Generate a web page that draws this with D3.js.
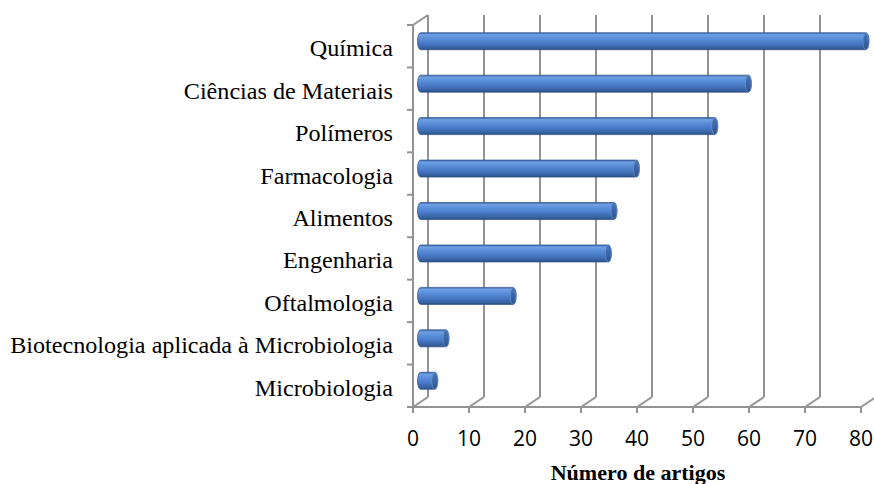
<!DOCTYPE html>
<html>
<head>
<meta charset="utf-8">
<script src="https://cdn.jsdelivr.net/npm/d3@7"></script>
<style>
  body { margin: 0; background: #fff; }
  svg { display: block; }
</style>
</head>
<body>
<div class="chart"></div>
<script>
var categories = ["Química", "Ciências de Materiais", "Polímeros", "Farmacologia",
  "Alimentos", "Engenharia", "Oftalmologia", "Biotecnologia aplicada à Microbiologia",
  "Microbiologia"];
var values = [80, 59, 53, 39, 35, 34, 17, 5, 3];
var ticks = [0, 10, 20, 30, 40, 50, 60, 70, 80];
var axisTitle = "Número de artigos";

var width = 874, height = 484;
// 3d depth offset of the back wall
var depth = {dx: 15, dy: -10};
var front = {left: 413, right: 861, top: 25, bottom: 407};

var svg = d3.select(".chart").append("svg")
    .attr("width", width)
    .attr("height", height);

var x = d3.scaleLinear().domain([0, 80]).range([front.left, front.right]);
var y = d3.scaleBand().domain(categories).range([front.top, front.bottom]);

var grid = "#939393";

// gradients for the cylinders
var defs = svg.append("defs");
var body = defs.append("linearGradient").attr("id", "cyl")
    .attr("x1", 0).attr("y1", 0).attr("x2", 0).attr("y2", 1);
[[0, "#3a68ab"], [0.12, "#6f9fe2"], [0.3, "#5d91dc"], [0.65, "#4677c2"], [0.9, "#35609f"], [1, "#2a4c80"]]
  .forEach((s) => { body.append("stop").attr("offset", s[0]).attr("stop-color", s[1]); });
var cap = defs.append("linearGradient").attr("id", "cap")
    .attr("x1", 0).attr("y1", 0).attr("x2", 0).attr("y2", 1);
[[0, "#4a76b8"], [0.5, "#3b67a8"], [1, "#2c5088"]]
  .forEach((s) => { cap.append("stop").attr("offset", s[0]).attr("stop-color", s[1]); });

// back wall gridlines
svg.append("g").selectAll("line.grid")
  .data(ticks)
  .enter().append("line")
    .attr("x1", (d) => x(d) + depth.dx)
    .attr("x2", (d) => x(d) + depth.dx)
    .attr("y1", front.top + depth.dy)
    .attr("y2", front.bottom + depth.dy)
    .attr("stroke", grid)
    .attr("stroke-width", 2);

// floor lines
svg.append("g").selectAll("line.floor")
  .data(ticks)
  .enter().append("line")
    .attr("x1", (d) => x(d))
    .attr("x2", (d) => x(d) + depth.dx)
    .attr("y1", front.bottom)
    .attr("y2", front.bottom + depth.dy)
    .attr("stroke", grid)
    .attr("stroke-width", 2);

// front axes
var ax = svg.append("g").attr("stroke", grid).attr("stroke-width", 2).attr("fill", "none");
ax.append("line")
    .attr("x1", front.left - 6).attr("x2", front.right)
    .attr("y1", front.bottom).attr("y2", front.bottom);
ax.append("line")
    .attr("x1", front.left).attr("x2", front.left)
    .attr("y1", front.top).attr("y2", front.bottom);
ax.append("line")
    .attr("x1", front.left).attr("x2", front.left + depth.dx)
    .attr("y1", front.top).attr("y2", front.top + depth.dy);
ax.selectAll("line.xt")
  .data(ticks)
  .enter().append("line")
    .attr("x1", (d) => x(d)).attr("x2", (d) => x(d))
    .attr("y1", front.bottom).attr("y2", front.bottom + 6);
ax.selectAll("line.yt")
  .data(categories)
  .enter().append("line")
    .attr("x1", front.left - 6).attr("x2", front.left)
    .attr("y1", (d) => y(d)).attr("y2", (d) => y(d));

// cylinders sit in the middle of the depth
var bh = 17, rx = 3, ry = bh / 2;
var mx = (v) => x(v) + depth.dx / 2;
var my = (c) => y(c) + y.bandwidth() / 2 + depth.dy / 2;

var bars = svg.append("g").selectAll("g.bar")
  .data(categories.map((c, i) => ({name: c, value: values[i]})))
  .enter().append("g");

bars.append("path")
    .attr("d", (d) => {
      var x0 = mx(0), x1 = mx(d.value) - 2.5, t = my(d.name) - ry, b = my(d.name) + ry;
      return "M" + x0 + "," + t + " L" + x1 + "," + t +
        " A" + rx + "," + ry + " 0 0 1 " + x1 + "," + b +
        " L" + x0 + "," + b +
        " A" + rx + "," + ry + " 0 0 1 " + x0 + "," + t + "Z";
    })
    .attr("fill", "url(#cyl)")
    .attr("stroke", "#2d5088")
    .attr("stroke-width", 0.7);

bars.append("ellipse")
    .attr("cx", (d) => mx(d.value) - 2.5)
    .attr("cy", (d) => my(d.name))
    .attr("rx", rx)
    .attr("ry", ry)
    .attr("fill", "url(#cap)")
    .attr("stroke", "#6b95cf")
    .attr("stroke-width", 0.7);

// category labels (the source is a bit stretched horizontally)
svg.append("g").selectAll("text")
  .data(categories)
  .enter().append("text")
    .attr("transform", (d) => "translate(393," + (y(d) + y.bandwidth() / 2 + 10) + ") scale(1.05,1)")
    .attr("text-anchor", "end")
    .style("font-family", "'Liberation Serif', 'Times New Roman', serif")
    .style("font-size", "23px")
    .attr("fill", "#000")
    .text((d) => d);

// value tick labels
svg.append("g").selectAll("text")
  .data(ticks)
  .enter().append("text")
    .attr("x", (d) => x(d))
    .attr("y", 446)
    .attr("text-anchor", "middle")
    .style("font-family", "'Open Sans', sans-serif")
    .style("font-size", "21px")
    .attr("fill", "#000")
    .text((d) => d);

svg.append("text")
    .attr("transform", "translate(638,480) scale(1.05,1)")
    .attr("text-anchor", "middle")
    .style("font-family", "'Liberation Serif', 'Times New Roman', serif")
    .style("font-size", "21px")
    .style("font-weight", "bold")
    .text(axisTitle);
</script>
</body>
</html>
